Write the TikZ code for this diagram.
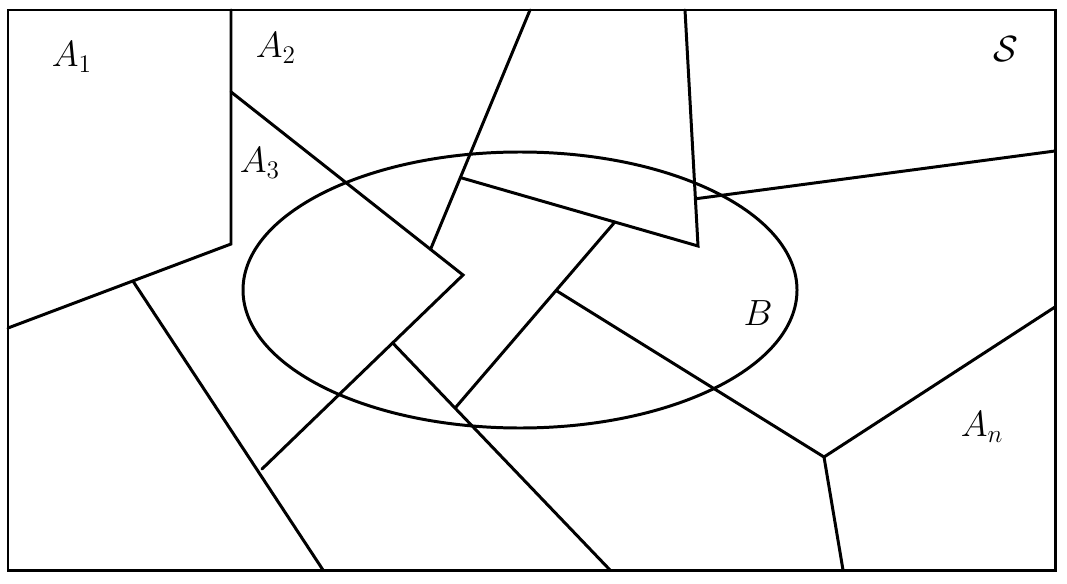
\documentclass[tikz,border=0pt]{standalone}
\usetikzlibrary{calc}
\tikzset{
  cut/.style={line width=1.7pt, line cap=round, line join=miter},
  lab/.style={font=\fontsize{21}{24}\selectfont, inner sep=0pt}
}
\begin{document}
\begin{tikzpicture}[x=0.02cm,y=-0.02cm]
			\useasboundingbox (0,0) rectangle (1067,584);
			% cadre S
			\coordinate (nw) at (8,10);
			\coordinate (ne) at (1055,10);
			\coordinate (se) at (1055,570);
			\coordinate (sw) at (8,570);
			\draw[cut] (nw)--(ne)--(se)--(sw)--cycle;
			% A1
			\coordinate (a1t) at (231,10);
			\coordinate (a1c) at (231,244);
			\coordinate (a1l) at (8,328);
			\draw[cut] (a1t)--(a1c)--(a1l);
			% A2 / A3
			\coordinate (a3t) at ($(a1t)!0.35!(a1c)$);
			\coordinate (pk) at (463,275);
			\coordinate (pkb) at (262,469);
			\draw[cut] (a3t)--(pk)--(pkb);
			% bas gauche
			\coordinate (q1) at ($(a1c)!0.44!(a1l)$);
			\coordinate (q1b) at (323,570);
			\draw[cut] (q1)--(q1b);
			\coordinate (q2) at ($(pk)!0.35!(pkb)$);
			\coordinate (q2b) at (610,570);
			\draw[cut] (q2)--(q2b);
			% haut milieu
			\coordinate (m1) at (530,10);
			\coordinate (m1b) at ($(a3t)!0.86!(pk)$);
			\draw[cut] (m1)--(m1b);
			\coordinate (m2) at ($(m1)!0.70!(m1b)$);
			\coordinate (t1) at (685,10);
			\coordinate (t1b) at (698,246);
			\draw[cut] (t1)--(t1b)--(m2);
			% droite
			\coordinate (r1) at ($(t1)!0.8!(t1b)$);
			\coordinate (r1b) at (1055,151);
			\draw[cut] (r1)--(r1b);
			\coordinate (c1) at ($(m2)!0.65!(t1b)$);
			\coordinate (c1b) at (456,407);
			\draw[cut] (c1)--(c1b);
			\coordinate (c2) at ($(c1)!0.37!(c1b)$);
			\coordinate (v) at (824,457);
			\coordinate (vr) at (1055,307);
			\coordinate (vb) at (843,570);
			\draw[cut] (c2)--(v)--(vr);
			\draw[cut] (v)--(vb);
			% evenement B
			\draw[cut] (520,290) ellipse [x radius=277, y radius=138];
			% etiquettes
			\node[lab] (la1) at (72,57) {$A_1$};
			\node[lab] (la2) at (276,48) {$A_2$};
			\node[lab] (la3) at (260,163) {$A_3$};
			\node[lab] (ls) at (1006,49) {$\mathcal{S}$};
			\node[lab] (lb) at (758,313) {$B$};
			\node[lab] (lan) at (982,427) {$A_n$};
	\end{tikzpicture}
\end{document}
